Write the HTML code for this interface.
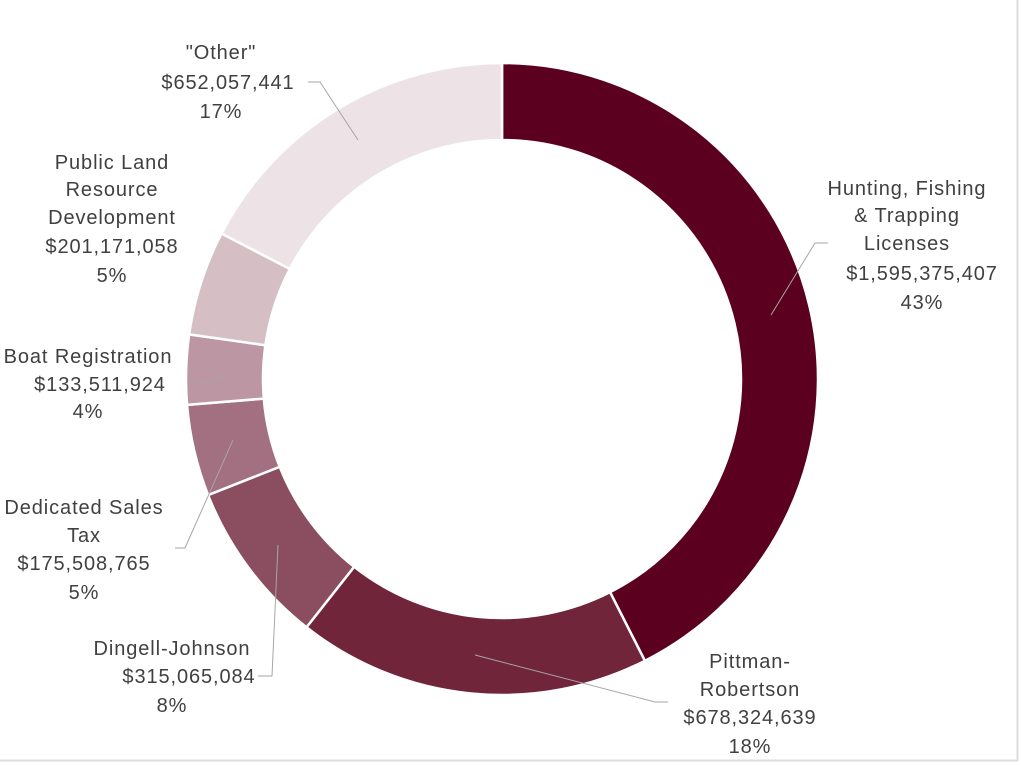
<!DOCTYPE html>
<html><head><meta charset="utf-8"><style>
html,body{margin:0;padding:0;background:#fff;}
body{width:1021px;height:765px;overflow:hidden;position:relative;}
svg{position:absolute;left:0;top:0;}
text{font-family:"Liberation Sans",sans-serif;font-size:20px;letter-spacing:0.9px;fill:#404040;text-anchor:middle;}
</style></head><body>
<svg width="1021" height="765" id="s">
<line x1="1017.5" y1="0" x2="1017.5" y2="761" stroke="#dcdcdc" stroke-width="2"/>
<line x1="0" y1="760.5" x2="1018" y2="760.5" stroke="#dcdcdc" stroke-width="2"/>
<g id="ring"></g>
<g stroke="#a6a6a6" stroke-width="1" fill="none">
<polyline points="308,82 320,82 358,140"/>
<polyline points="828,243 815,243 771,315"/>
<polyline points="190,384 200,384 226,377"/>
<polyline points="175,548 185,548 233,440"/>
<polyline points="258,676 272,676 278,545"/>
<polyline points="668,702 655,702 475,655"/>
</g>
<text x="221" y="59">"Other"</text><text x="228" y="89">$652,057,441</text><text x="221" y="118">17%</text>
<text x="112" y="169">Public Land</text><text x="112" y="196">Resource</text><text x="112" y="224">Development</text><text x="112" y="253">$201,171,058</text><text x="112" y="282">5%</text>
<text x="907" y="195">Hunting, Fishing</text><text x="907" y="222">&amp; Trapping</text><text x="907" y="250">Licenses</text><text x="922" y="280">$1,595,375,407</text><text x="922" y="309">43%</text>
<text x="88" y="363">Boat Registration</text><text x="100" y="391">$133,511,924</text><text x="88" y="418">4%</text>
<text x="84" y="514">Dedicated Sales</text><text x="84" y="542">Tax</text><text x="84" y="570">$175,508,765</text><text x="84" y="599">5%</text>
<text x="172" y="655">Dingell-Johnson</text><text x="189" y="683">$315,065,084</text><text x="172" y="712">8%</text>
<text x="750" y="668">Pittman-</text><text x="750" y="696">Robertson</text><text x="750" y="724">$678,324,639</text><text x="750" y="753">18%</text>
</svg>
<script>
var v=[1595375407,678324639,315065084,175508765,133511924,201171058,652057441];
var c=["#5c0020","#70253b","#8a4e60","#a27080","#bc96a2","#d6bec5","#ede3e7"];
var t=v.reduce((a,b)=>a+b,0),cx=502,cy=379,R=316,r=239,a=0,g=document.getElementById("ring"),h="";
function p(ang,rad){var th=ang*2*Math.PI-Math.PI/2;return [cx+rad*Math.cos(th),cy+rad*Math.sin(th)];}
for(var i=0;i<v.length;i++){var b=a+v[i]/t,l=(b-a)>0.5?1:0;
var p1=p(a,R),p2=p(b,R),p3=p(b,r),p4=p(a,r);
h+='<path d="M'+p1+' A'+R+' '+R+' 0 '+l+' 1 '+p2+' L'+p3+' A'+r+' '+r+' 0 '+l+' 0 '+p4+'Z" fill="'+c[i]+'" stroke="#fff" stroke-width="2.5"/>';a=b;}
g.innerHTML=h;
</script>
</body></html>
